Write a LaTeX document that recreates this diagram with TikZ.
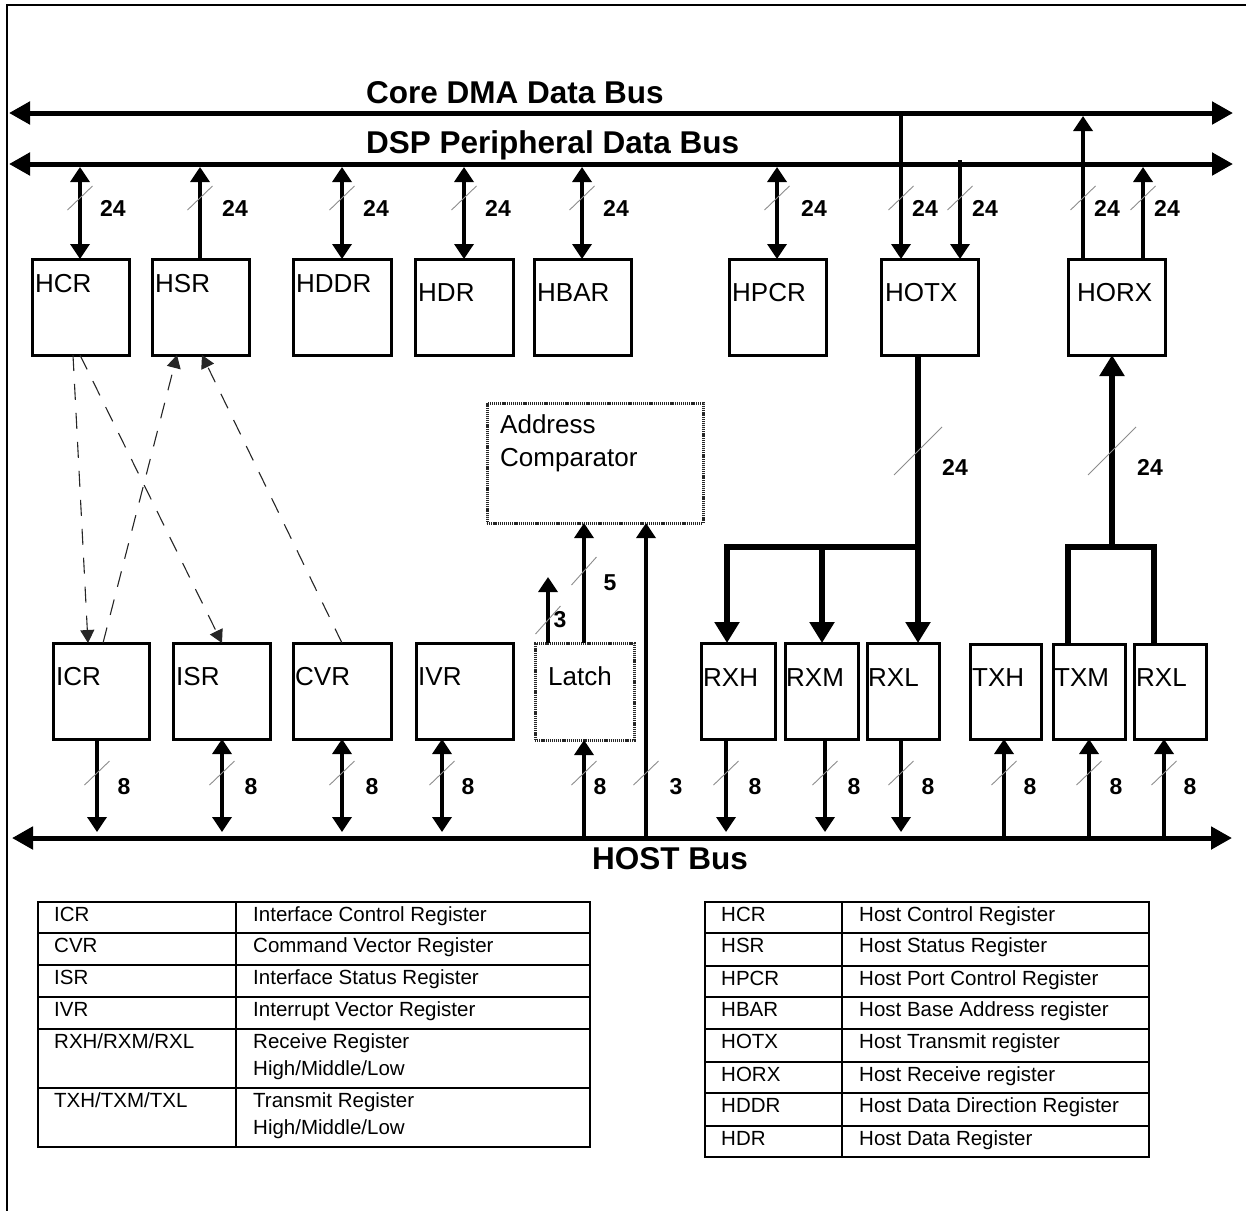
\documentclass[tikz,border=0pt]{standalone}
\usepackage{fontspec}
\setmainfont{Liberation Sans}
\usetikzlibrary{arrows.meta}
\newcommand\busslash[2]{\draw[slashmark] (#1,#2) ++(-12.5,12) -- ++(25,-24);}
\newcommand\bigslash[2]{\draw[slashmark] (#1,#2) ++(-24,24) -- ++(48,-48);}
\begin{document}
\begin{tikzpicture}[x=1pt,y=-1pt,
 box/.style={draw, line width=3pt, anchor=north west, inner sep=0pt, outer sep=0pt},
 hbox/.style={draw=black!85, line width=3pt, dash pattern=on 1.2pt off 0.9pt, anchor=north west, inner sep=0pt, outer sep=0pt},
 rtext/.style={anchor=base west, inner sep=0pt, font=\fontsize{26}{31}\selectfont},
 num/.style={inner sep=0pt, font=\bfseries\fontsize{23}{27}\selectfont},
 busname/.style={inner sep=0pt, font=\bfseries\fontsize{31.5}{36}\selectfont},
 ttext/.style={anchor=base west, inner sep=0pt, font=\fontsize{20.5}{24}\selectfont},
 busline/.style={line width=5pt, {Triangle[length=21pt,width=22pt]}-{Triangle[length=21pt,width=22pt]}},
 sig/.style={line width=3.5pt},
 toend/.style={-{Triangle[length=15pt,width=19pt]}},
 twoway/.style={{Triangle[length=15pt,width=19pt]}-{Triangle[length=15pt,width=19pt]}},
 fat/.style={line width=6pt},
 fatend/.style={-{Triangle[length=21pt,width=24pt]}},
 ctl/.style={line width=1.1pt, draw=black!85, dash pattern=on 16pt off 13pt, -{Triangle[length=13pt,width=14pt]}},
 slashmark/.style={line width=0.9pt, draw=black!45},
 tbl/.style={line width=2pt},
]
\useasboundingbox (0,0) rectangle (1246,1211);
% frame
\draw[line width=2pt] (1246,5) -- (7,5) -- (7,1211);

% bus levels
\coordinate (dmaC) at (0,113);
\coordinate (dmaY) at (0,116);
\coordinate (dspTop) at (0,160);
\coordinate (dspY) at (0,167);
\coordinate (hostY) at (0,832);
\coordinate (hostC) at (0,838);
\coordinate (rxJ) at (918,547);
\coordinate (txJ) at (1112,547);

% buses
\draw[busline] (9,113) -- (1233,113);
\draw[busline] (9,164) -- (1233,164);
\draw[busline] (12,838) -- (1232,838);
\node[busname, anchor=base west] (nDMA) at (366,103) {Core DMA Data Bus};
\node[busname, anchor=base west] (nDSP) at (366,153) {DSP Peripheral Data Bus};
\node[busname, anchor=base east] (nHOST) at (748,869) {HOST Bus};

% upper registers
\node[box, minimum width=97pt, minimum height=96pt] (HCR) at (32,259) {};
\node[box, minimum width=97pt, minimum height=96pt] (HSR) at (152,259) {};
\node[box, minimum width=98pt, minimum height=96pt] (HDDR) at (293,259) {};
\node[box, minimum width=98pt, minimum height=96pt] (HDR) at (415,259) {};
\node[box, minimum width=97pt, minimum height=96pt] (HBAR) at (534,259) {};
\node[box, minimum width=97pt, minimum height=96pt] (HPCR) at (729,259) {};
\node[box, minimum width=97pt, minimum height=96pt] (HOTX) at (881,259) {};
\node[box, minimum width=97pt, minimum height=96pt] (HORX) at (1068,259) {};
\node[rtext] (tHCR) at (35,292) {HCR};
\node[rtext] (tHSR) at (155,292) {HSR};
\node[rtext] (tHDDR) at (296,292) {HDDR};
\node[rtext] (tHDR) at (418,301) {HDR};
\node[rtext] (tHBAR) at (537,301) {HBAR};
\node[rtext] (tHPCR) at (732,301) {HPCR};
\node[rtext] (tHOTX) at (885,301) {HOTX};
\node[rtext] (tHORX) at (1077,301) {HORX};

% lower registers
\node[box, minimum width=96pt, minimum height=96pt] (ICR) at (53,643) {};
\node[box, minimum width=97pt, minimum height=96pt] (ISR) at (173,643) {};
\node[box, minimum width=98pt, minimum height=96pt] (CVR) at (293,643) {};
\node[box, minimum width=97pt, minimum height=96pt] (IVR) at (416,643) {};
\node[hbox, minimum width=99pt, minimum height=97pt] (Latch) at (535,643) {};
\node[hbox, minimum width=216pt, minimum height=120pt] (AC) at (487,403) {};
\node[box, minimum width=74pt, minimum height=96pt] (RXH) at (701,643) {};
\node[box, minimum width=73pt, minimum height=96pt] (RXM) at (785,643) {};
\node[box, minimum width=72pt, minimum height=96pt] (RXL) at (867,643) {};
\node[box, minimum width=71pt, minimum height=95pt] (TXH) at (970,644) {};
\node[box, minimum width=72pt, minimum height=95pt] (TXM) at (1053,644) {};
\node[box, minimum width=72pt, minimum height=95pt] (RXLb) at (1134,644) {};
\node[rtext] (tICR) at (56,685) {ICR};
\node[rtext] (tISR) at (176,685) {ISR};
\node[rtext] (tCVR) at (295,685) {CVR};
\node[rtext] (tIVR) at (418,685) {IVR};
\node[rtext] (tLatch) at (548,685) {Latch};
\node[rtext] (tAC1) at (500,433) {Address};
\node[rtext] (tAC2) at (500,466) {Comparator};
\node[rtext] (tRXH) at (703,686) {RXH};
\node[rtext] (tRXM) at (786,686) {RXM};
\node[rtext] (tRXL) at (868,686) {RXL};
\node[rtext] (tTXH) at (972,686) {TXH};
\node[rtext] (tTXM) at (1054,686) {TXM};
\node[rtext] (tRXLb) at (1136,686) {RXL};

% upper 24-bit connectors
\draw[sig, twoway] (80,0 |- dspY) -- (80,0 |- HCR.north);
\draw[sig, toend] (200,0 |- HSR.north) -- (200,0 |- dspY);
\draw[sig, twoway] (342,0 |- dspY) -- (342,0 |- HDDR.north);
\draw[sig, twoway] (464,0 |- dspY) -- (464,0 |- HDR.north);
\draw[sig, twoway] (582,0 |- dspY) -- (582,0 |- HBAR.north);
\draw[sig, twoway] (777,0 |- dspY) -- (777,0 |- HPCR.north);
\draw[sig, toend] (901,0 |- dmaC) -- (901,0 |- HOTX.north);
\draw[sig, toend] (960,0 |- dspTop) -- (960,0 |- HOTX.north);
\draw[sig, toend] (1083,0 |- HORX.north) -- (1083,0 |- dmaY);
\draw[sig, toend] (1143,0 |- HORX.north) -- (1143,0 |- dspY);
\foreach \x in {80,200,342,464,582,777,901,960,1083,1143} {\busslash{\x}{198}}
\node[num] (n1) at (113,208) {24};
\node[num] (n2) at (235,208) {24};
\node[num] (n3) at (376,208) {24};
\node[num] (n4) at (498,208) {24};
\node[num] (n5) at (616,208) {24};
\node[num] (n6) at (814,208) {24};
\node[num] (n7) at (925,208) {24};
\node[num] (n8) at (985,208) {24};
\node[num] (n9) at (1107,208) {24};
\node[num] (n10) at (1167,208) {24};

% control (dashed) connectors
\draw[ctl] (73,0 |- HCR.south) -- (88,0 |- ICR.north);
\draw[ctl] (80,0 |- HCR.south) -- (222,0 |- ISR.north);
\draw[ctl] (103,0 |- ICR.north) -- (177,0 |- HSR.south);
\draw[ctl] (342,0 |- CVR.north) -- (202,0 |- HSR.south);

% fat receive / transmit paths
\draw[fat, fatend] (918,0 |- HOTX.south) -- (918,0 |- RXL.north);
\draw[fat, fatend] (rxJ) -- (727,547) -- (727,0 |- RXH.north);
\draw[fat, fatend] (822,547) -- (822,0 |- RXM.north);
\draw[fat] (1068,0 |- TXM.north) -- (1068,547) -- (1154,547) -- (1154,0 |- RXLb.north);
\draw[fat, fatend] (txJ) -- (1112,0 |- HORX.south);
\bigslash{918}{451}
\bigslash{1112}{451}
\node[num] (n11) at (955,467) {24};
\node[num] (n12) at (1150,467) {24};

% latch / comparator
\draw[sig, toend] (548,0 |- Latch.north) -- (548,577);
\draw[sig, toend] (584,0 |- Latch.north) -- (584,0 |- AC.south);
\draw[sig, toend] (584,0 |- hostC) -- (584,0 |- Latch.south);
\draw[sig, toend] (646,0 |- hostC) -- (646,0 |- AC.south);
\draw[slashmark] (548,620) ++(-12.5,14) -- ++(25,-28);
\draw[slashmark] (584,571) ++(-12.5,14) -- ++(25,-28);
\node[num] (n13) at (560,620) {3};
\node[num] (n14) at (610,583) {5};

% lower 8-bit connectors
\draw[sig, toend] (97,0 |- ICR.south) -- (97,0 |- hostY);
\draw[sig, twoway] (222,0 |- ISR.south) -- (222,0 |- hostY);
\draw[sig, twoway] (342,0 |- CVR.south) -- (342,0 |- hostY);
\draw[sig, twoway] (442,0 |- IVR.south) -- (442,0 |- hostY);
\draw[sig, toend] (726,0 |- RXH.south) -- (726,0 |- hostY);
\draw[sig, toend] (825,0 |- RXM.south) -- (825,0 |- hostY);
\draw[sig, toend] (901,0 |- RXL.south) -- (901,0 |- hostY);
\draw[sig, toend] (1004,0 |- hostC) -- (1004,0 |- TXH.south);
\draw[sig, toend] (1089,0 |- hostC) -- (1089,0 |- TXM.south);
\draw[sig, toend] (1164,0 |- hostC) -- (1164,0 |- RXLb.south);
\foreach \x in {97,222,342,442,584,646,726,825,901,1004,1089,1164} {\busslash{\x}{773}}
\node[num] (m1) at (124,787) {8};
\node[num] (m2) at (251,787) {8};
\node[num] (m3) at (372,787) {8};
\node[num] (m4) at (468,787) {8};
\node[num] (m5) at (600,787) {8};
\node[num] (m6) at (676,787) {3};
\node[num] (m7) at (755,787) {8};
\node[num] (m8) at (854,787) {8};
\node[num] (m9) at (928,787) {8};
\node[num] (m10) at (1030,787) {8};
\node[num] (m11) at (1116,787) {8};
\node[num] (m12) at (1190,787) {8};

% left table
\draw[tbl] (38,902) rectangle (590,1147);
\foreach \y in {933,965,997,1029,1088} {\draw[tbl] (38,\y) -- (590,\y);}
\draw[tbl] (236,902) -- (236,1147);
\node[ttext] (a1) at (54,921) {ICR};
\node[ttext] (b1) at (253,921) {Interface Control Register};
\node[ttext] (a2) at (54,952) {CVR};
\node[ttext] (b2) at (253,952) {Command Vector Register};
\node[ttext] (a3) at (54,984) {ISR};
\node[ttext] (b3) at (253,984) {Interface Status Register};
\node[ttext] (a4) at (54,1016) {IVR};
\node[ttext] (b4) at (253,1016) {Interrupt Vector Register};
\node[ttext] (a5) at (54,1048) {RXH/RXM/RXL};
\node[ttext] (b5) at (253,1048) {Receive Register};
\node[ttext] (c5) at (253,1075) {High/Middle/Low};
\node[ttext] (a6) at (54,1107) {TXH/TXM/TXL};
\node[ttext] (b6) at (253,1107) {Transmit Register};
\node[ttext] (c6) at (253,1134) {High/Middle/Low};

% right table
\draw[tbl] (705,902) rectangle (1149,1157);
\foreach \y in {933,966,997,1029,1062,1093,1126} {\draw[tbl] (705,\y) -- (1149,\y);}
\draw[tbl] (842,902) -- (842,1157);
\node[ttext] (d1) at (721,921) {HCR};
\node[ttext] (e1) at (859,921) {Host Control Register};
\node[ttext] (d2) at (721,952) {HSR};
\node[ttext] (e2) at (859,952) {Host Status Register};
\node[ttext] (d3) at (721,985) {HPCR};
\node[ttext] (e3) at (859,985) {Host Port Control Register};
\node[ttext] (d4) at (721,1016) {HBAR};
\node[ttext] (e4) at (859,1016) {Host Base Address register};
\node[ttext] (d5) at (721,1048) {HOTX};
\node[ttext] (e5) at (859,1048) {Host Transmit register};
\node[ttext] (d6) at (721,1081) {HORX};
\node[ttext] (e6) at (859,1081) {Host Receive register};
\node[ttext] (d7) at (721,1112) {HDDR};
\node[ttext] (e7) at (859,1112) {Host Data Direction Register};
\node[ttext] (d8) at (721,1145) {HDR};
\node[ttext] (e8) at (859,1145) {Host Data Register};
\end{tikzpicture}
\end{document}
